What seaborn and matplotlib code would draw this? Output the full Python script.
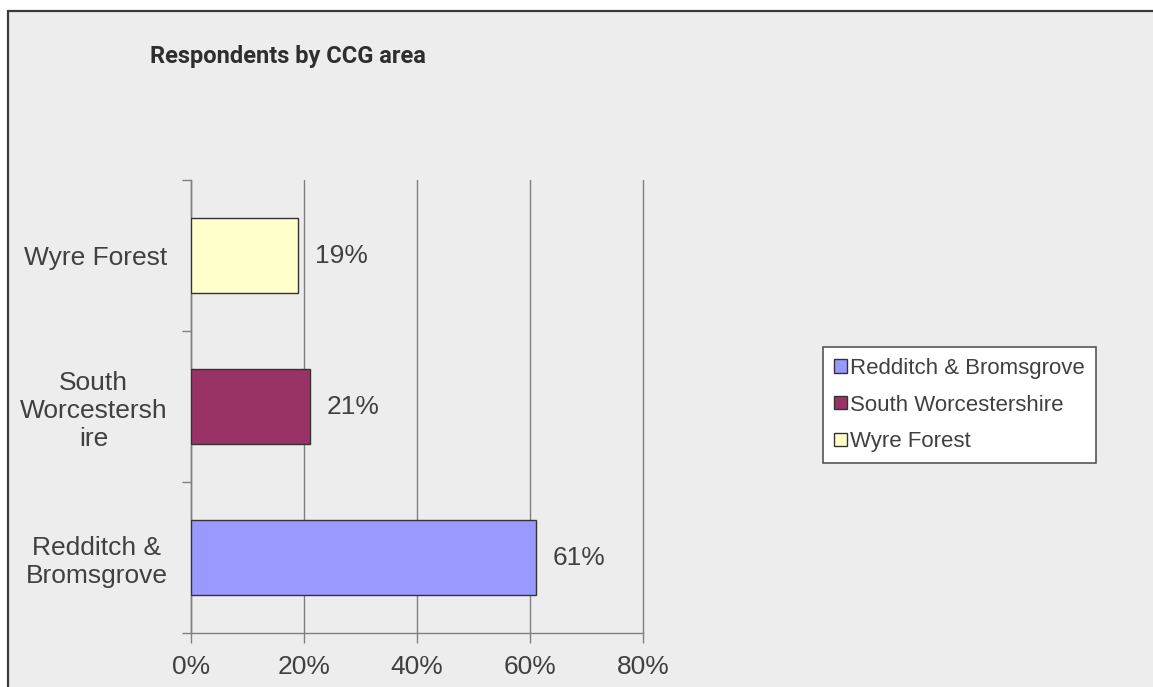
import matplotlib
matplotlib.use("Agg")
import matplotlib.pyplot as plt
from matplotlib.patches import Rectangle, Patch
import seaborn as sns
import pandas as pd

# Data
areas = ["Wyre Forest", "South Worcestershire", "Redditch & Bromsgrove"]
area_labels = ["Wyre Forest", "South\nWorcestersh\nire", "Redditch &\nBromsgrove"]
shares = [19, 21, 61]
colours = ["#FFFFCC", "#993366", "#9999FF"]
legend_order = ["Redditch & Bromsgrove", "South Worcestershire", "Wyre Forest"]
x_ticks = [0, 20, 40, 60, 80]
title = "Respondents by CCG area"

df = pd.DataFrame({"area": areas, "share": shares})
palette = dict(zip(areas, colours))

sns.set_theme(style="white")
plt.rcParams["font.family"] = ["Liberation Sans", "DejaVu Sans"]

BG = "#EDEDED"
TXT = "#404040"
GRID = "#7F7F7F"

fig = plt.figure(figsize=(11.53, 6.87), dpi=100, facecolor="white")
W, H = 1153, 687

# chart area panel with border on the top and left
panel = Rectangle((8 / W, -0.05), 1.1, 1 - 11 / H + 0.05,
                  transform=fig.transFigure, facecolor=BG,
                  edgecolor="#3A3A3A", linewidth=1.6, zorder=-10)
fig.patches.append(panel)

ax = fig.add_axes([191 / W, 1 - 633 / H, (643 - 191) / W, (633 - 180) / H])
ax.set_zorder(1)
ax.set_facecolor(BG)

sns.barplot(data=df, x="share", y="area", hue="area", palette=palette,
            order=areas, hue_order=areas, orient="h", width=0.5,
            edgecolor="#333333", linewidth=1.0, saturation=1, legend=False,
            ax=ax, zorder=3)

ax.set_xlim(0, 80)
ax.set_ylim(2.5, -0.5)
ax.set_xticks(x_ticks)
ax.set_xticklabels([f"{t}%" for t in x_ticks])
ax.xaxis.grid(True, color=GRID, linewidth=1.0, zorder=1)
ax.set_axisbelow(True)
for gl in ax.get_xgridlines():
    gl.set_clip_on(False)

# category boundaries as major ticks, names on minor ticks
ax.set_yticks([-0.5, 0.5, 1.5, 2.5])
ax.set_yticklabels([])
ax.set_yticks(range(len(areas)), minor=True)
ax.set_yticklabels(area_labels, minor=True, multialignment="center")
ax.tick_params(axis="y", which="major", direction="out", length=6.5,
               width=1.0, color=GRID, left=True)
ax.tick_params(axis="y", which="minor", length=0, pad=17,
               labelsize=19, labelcolor=TXT)
ax.tick_params(axis="x", direction="out", length=7, width=1.0, color=GRID,
               bottom=True, pad=9, labelsize=19, labelcolor=TXT)

for side in ("top", "right"):
    ax.spines[side].set_visible(False)
for side in ("left", "bottom"):
    ax.spines[side].set_color(GRID)
    ax.spines[side].set_linewidth(1.0)

ax.set_xlabel("")
ax.set_ylabel("")

for cont in ax.containers:
    ax.bar_label(cont, labels=[f"{v:.0f}%" for v in cont.datavalues],
                 padding=12, fontsize=19, color=TXT)

fig.text(150 / W, 1 - 57 / H, title, fontsize=17, fontweight="bold",
         color="#2E2E2E", ha="left", va="center", family=["Roboto", "DejaVu Sans"])

handles = [Patch(facecolor=palette[a], edgecolor="#333333", linewidth=1.0)
           for a in legend_order]
leg = fig.legend(handles, legend_order, loc="center",
                 bbox_to_anchor=(959.5 / W, 1 - 405 / H), frameon=True,
                 fontsize=16, handlelength=0.55, handleheight=0.55,
                 handletextpad=0.15, labelspacing=0.7, borderpad=0.5,
                 fancybox=False, labelcolor=TXT, framealpha=1)
leg.get_frame().set_edgecolor("#555555")
leg.get_frame().set_linewidth(1.2)
leg.get_frame().set_facecolor("white")

fig.savefig("out.png", dpi=100, facecolor=fig.get_facecolor())
